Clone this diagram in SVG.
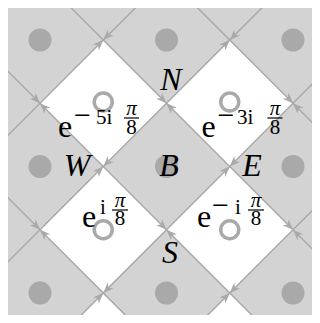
<svg xmlns="http://www.w3.org/2000/svg" xmlns:xlink="http://www.w3.org/1999/xlink" width="320" height="323" viewBox="0 0 320 323">
<style>
.wt{fill:#ffffff;stroke:none}
.ln{stroke:#a9a9a9;stroke-width:1.5;fill:none}
.dot{fill:#a9a9a9}
.ring{fill:none;stroke:#a9a9a9;stroke-width:3.5}
.lab{font-family:"Liberation Serif",serif;font-style:italic;font-size:32px;fill:#000;text-anchor:middle}
.e{font-family:"Liberation Serif",serif;font-size:32px;fill:#000}
.sup{font-family:"Liberation Serif",serif;font-size:21px;fill:#000}
.mn{font-family:"Liberation Serif",serif;font-size:30px;fill:#000}
.fr{font-family:"Liberation Serif",serif;font-size:21px;fill:#000;text-anchor:middle}
.pi{font-style:italic}
.bar{stroke:#000;stroke-width:1.2}
</style>
<defs>
<clipPath id="clip"><rect x="8" y="8" width="304" height="307"/></clipPath>
<path id="ah" d="M0,0 L-10.5,-4.2 L-7.5,0 L-10.5,4.2 Z" fill="#a9a9a9"/>
</defs>
<g id="tiles" clip-path="url(#clip)">
<rect x="8" y="8" width="304" height="307" fill="#d3d3d3"/>
<polygon class="wt" points="40,103.25 103.25,40 166.5,103.25 103.25,166.5"/>
<polygon class="wt" points="166.5,103.25 229.75,40 293,103.25 229.75,166.5"/>
<polygon class="wt" points="40,229.75 103.25,166.5 166.5,229.75 103.25,293"/>
<polygon class="wt" points="166.5,229.75 229.75,166.5 293,229.75 229.75,293"/>
<polygon class="wt" points="40,356.25 103.25,293 166.5,356.25 103.25,419.5"/>
<polygon class="wt" points="166.5,356.25 229.75,293 293,356.25 229.75,419.5"/>
</g>
<g id="connectors" clip-path="url(#clip)">
<line class="ln" x1="-100" y1="243.25" x2="420" y2="-276.75"/>
<line class="ln" x1="-100" y1="369.75" x2="420" y2="-150.25"/>
<line class="ln" x1="-100" y1="496.25" x2="420" y2="-23.75"/>
<line class="ln" x1="-100" y1="622.75" x2="420" y2="102.75"/>
<line class="ln" x1="-100" y1="89.75" x2="420" y2="609.75"/>
<line class="ln" x1="-100" y1="-36.75" x2="420" y2="483.25"/>
<line class="ln" x1="-100" y1="-163.25" x2="420" y2="356.75"/>
<line class="ln" x1="-100" y1="-289.75" x2="420" y2="230.25"/>
<use xlink:href="#ah" transform="translate(103.25,40) rotate(-45)"/>
<use xlink:href="#ah" transform="translate(103.25,40) rotate(135)"/>
<use xlink:href="#ah" transform="translate(229.75,40) rotate(-45)"/>
<use xlink:href="#ah" transform="translate(229.75,40) rotate(135)"/>
<use xlink:href="#ah" transform="translate(103.25,166.5) rotate(-45)"/>
<use xlink:href="#ah" transform="translate(103.25,166.5) rotate(135)"/>
<use xlink:href="#ah" transform="translate(229.75,166.5) rotate(-45)"/>
<use xlink:href="#ah" transform="translate(229.75,166.5) rotate(135)"/>
<use xlink:href="#ah" transform="translate(103.25,293) rotate(-45)"/>
<use xlink:href="#ah" transform="translate(103.25,293) rotate(135)"/>
<use xlink:href="#ah" transform="translate(229.75,293) rotate(-45)"/>
<use xlink:href="#ah" transform="translate(229.75,293) rotate(135)"/>
<use xlink:href="#ah" transform="translate(40,103.25) rotate(45)"/>
<use xlink:href="#ah" transform="translate(40,103.25) rotate(-135)"/>
<use xlink:href="#ah" transform="translate(166.5,103.25) rotate(45)"/>
<use xlink:href="#ah" transform="translate(166.5,103.25) rotate(-135)"/>
<use xlink:href="#ah" transform="translate(293,103.25) rotate(45)"/>
<use xlink:href="#ah" transform="translate(293,103.25) rotate(-135)"/>
<use xlink:href="#ah" transform="translate(40,229.75) rotate(45)"/>
<use xlink:href="#ah" transform="translate(40,229.75) rotate(-135)"/>
<use xlink:href="#ah" transform="translate(166.5,229.75) rotate(45)"/>
<use xlink:href="#ah" transform="translate(166.5,229.75) rotate(-135)"/>
<use xlink:href="#ah" transform="translate(293,229.75) rotate(45)"/>
<use xlink:href="#ah" transform="translate(293,229.75) rotate(-135)"/>
</g>
<g id="dots">
<circle class="dot" cx="40" cy="40" r="11.5"/>
<circle class="dot" cx="166.5" cy="40" r="11.5"/>
<circle class="dot" cx="293" cy="40" r="11.5"/>
<circle class="dot" cx="40" cy="166.5" r="11.5"/>
<circle class="dot" cx="293" cy="166.5" r="11.5"/>
<circle class="dot" cx="40" cy="293" r="11.5"/>
<circle class="dot" cx="166.5" cy="293" r="11.5"/>
<circle class="dot" cx="293" cy="293" r="11.5"/>
</g>
<g id="rings">
<circle class="ring" cx="103.25" cy="102" r="9"/>
<circle class="ring" cx="229.75" cy="102" r="9"/>
<circle class="ring" cx="103.25" cy="229.75" r="9"/>
<circle class="ring" cx="229.75" cy="229.75" r="9"/>
</g>
<g id="node-B">
<circle class="dot" cx="166.5" cy="166.5" r="11.5"/>
<text class="lab" x="169" y="176">B</text>
</g>
<g id="node-N"><text class="lab" x="171" y="90">N</text></g>
<g id="node-W"><text class="lab" x="77" y="176">W</text></g>
<g id="node-E"><text class="lab" x="252" y="176">E</text></g>
<g id="node-S"><text class="lab" x="170" y="263">S</text></g>
<g id="weight-nw">
<text class="e" x="58" y="137">e</text>
<text class="mn" x="74" y="125">−</text>
<text class="sup" x="96" y="124">5i</text>
<text class="fr pi" x="131.5" y="115">π</text>
<line class="bar" x1="124" y1="118" x2="139" y2="118"/>
<text class="fr" x="131.5" y="134">8</text>
</g>
<g id="weight-ne">
<text class="e" x="201.5" y="137">e</text>
<text class="mn" x="217.5" y="125">−</text>
<text class="sup" x="237" y="124">3i</text>
<text class="fr pi" x="275" y="115">π</text>
<line class="bar" x1="267.5" y1="118" x2="282.5" y2="118"/>
<text class="fr" x="275" y="134">8</text>
</g>
<g id="weight-sw">
<text class="e" x="82" y="227">e</text>
<text class="sup" x="100" y="214">i</text>
<text class="fr pi" x="120" y="207">π</text>
<line class="bar" x1="112" y1="210" x2="128" y2="210"/>
<text class="fr" x="120" y="225">8</text>
</g>
<g id="weight-se">
<text class="e" x="197" y="227">e</text>
<text class="mn" x="212" y="215">−</text>
<text class="sup" x="235" y="214">i</text>
<text class="fr pi" x="256" y="207">π</text>
<line class="bar" x1="248" y1="210" x2="264" y2="210"/>
<text class="fr" x="256" y="225">8</text>
</g>
</svg>
